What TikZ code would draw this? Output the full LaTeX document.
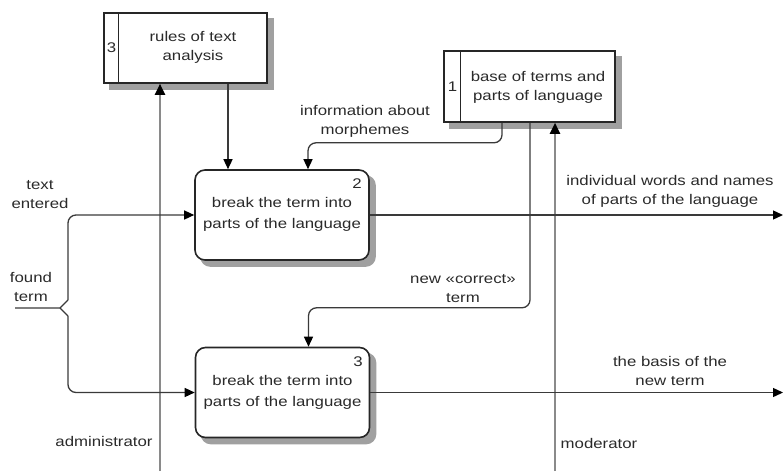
\documentclass[tikz,border=0pt]{standalone}
\usepackage{fontspec}
\setmainfont{Liberation Sans}[FakeStretch=1.2]
\usetikzlibrary{arrows.meta,calc,backgrounds}
\definecolor{boxline}{HTML}{262626}
\definecolor{flowline}{HTML}{3A3A3A}
\definecolor{mechline}{HTML}{8A8A8A}
\definecolor{shade}{HTML}{A0A0A0}
\definecolor{ink}{HTML}{2A2A2A}
\begin{document}
\begin{tikzpicture}[x=1pt,y=-1pt,
  font=\fontsize{14}{19}\selectfont,
  store/.style={draw=boxline,line width=1.6pt,fill=white,inner sep=0pt},
  proc/.style={store,rounded corners=10pt,minimum width=174pt,minimum height=90pt},
  shadowbox/.style={fill=shade,draw=none},
  txt/.style={align=center,text=ink,inner sep=0pt},
  flow/.style={draw=flowline,line width=1.3pt,rounded corners=8pt,
    -{Triangle[length=10pt,width=9pt,color=black]}},
  plain/.style={draw=flowline,line width=1.3pt},
  mech/.style={draw=mechline,line width=2.2pt,
    -{Triangle[length=11pt,width=10pt,color=black]}}]
\useasboundingbox (0,0) rectangle (783,471);

% data stores
\node[store,minimum width=163pt,minimum height=70pt] (rules) at (185.5,48) {};
\draw[boxline,line width=1.4pt] ([xshift=15pt]rules.north west) -- ([xshift=15pt]rules.south west);
\node[txt] (rulesnum) at (111.5,48) {3};
\node[txt] (rulestxt) at (193,47) {rules of text\\analysis};

\node[store,minimum width=171pt,minimum height=71pt] (base) at (529.5,86.5) {};
\draw[boxline,line width=1.4pt] ([xshift=17pt]base.north west) -- ([xshift=17pt]base.south west);
\node[txt] (basenum) at (452.5,86.5) {1};
\node[txt] (basetxt) at (538,87) {base of terms and\\parts of language};

% processes
\node[proc] (p2) at (282,215) {};
\node[txt,font=\fontsize{14}{21}\selectfont] (p2txt) at (282,214) {break the term into\\parts of the language};
\node[txt] (p2num) at (357,184) {2};

\node[proc] (p3) at (282.5,392.5) {};
\node[txt,font=\fontsize{14}{21}\selectfont] (p3txt) at (282.5,392) {break the term into\\parts of the language};
\node[txt] (p3num) at (358,362) {3};

% drop shadows behind the boxes
\begin{scope}[on background layer]
  \fill[shadowbox] ([shift={(6,6)}]rules.north west) rectangle ([shift={(6,6)}]rules.south east);
  \fill[shadowbox] ([shift={(6,6)}]base.north west) rectangle ([shift={(6,6)}]base.south east);
  \fill[shadowbox,rounded corners=10pt] ([shift={(6,6)}]p2.north west) rectangle ([shift={(6,6)}]p2.south east);
  \fill[shadowbox,rounded corners=10pt] ([shift={(6,6)}]p3.north west) rectangle ([shift={(6,6)}]p3.south east);
\end{scope}

% free ends of connectors
\coordinate (found) at (15,308);
\coordinate (fork) at (60,308);
\coordinate (forkup) at (68,300);
\coordinate (forkdn) at (68,316);
\coordinate (out2) at (783,215);
\coordinate (out3) at (783,392.5);
\coordinate (admin) at (160,471);
\coordinate (moder) at (555,471);
\coordinate (r1) at ([xshift=42.5pt]rules.south);
\coordinate (b1) at ([xshift=-27.5pt]base.south);
\coordinate (b2) at ([xshift=0.5pt]base.south);

% mechanisms
\draw[mech] (admin) -- (admin |- rules.south);
\draw[mech] (moder) -- (moder |- base.south);

% inputs
\draw[plain] (found) -- (fork) -- (forkup);
\draw[plain] (fork) -- (forkdn);
\draw[flow] (forkup) |- (p2.west);
\draw[flow] (forkdn) |- (p3.west);

% controls
\draw[flow] (r1) -- (r1 |- p2.north);
\draw[flow] (b1) -- ++(0,20) -| ([xshift=26pt]p2.north);
\draw[flow] (b2) -- ++(0,185) -| ([xshift=26pt]p3.north);

% outputs
\draw[flow] (p2.east) -- (out2);
\draw[flow] (p3.east) -- (out3);

% labels
\node[txt] (lmorph) at (365,121) {information about\\morphemes};
\node[txt] (lnew) at (463,289) {new «correct»\\term};
\node[txt] (ltext) at (40,195) {text\\entered};
\node[txt] (lfound) at (31,287) {found\\term};
\node[txt] (lwords) at (670,191) {individual words and names\\of parts of the language};
\node[txt] (lbasis) at (670,371) {the basis of the\\new term};
\node[txt] (ladmin) at (104,441) {administrator};
\node[txt] (lmoder) at (599,443) {moderator};
\end{tikzpicture}
\end{document}
